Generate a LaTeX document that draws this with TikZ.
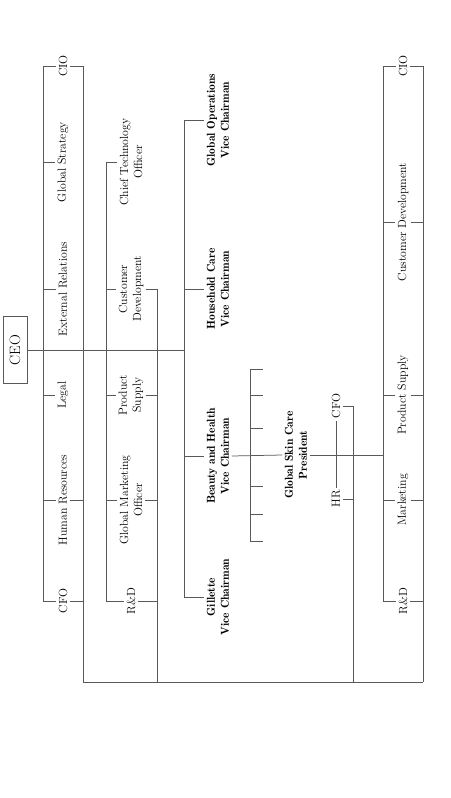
\documentclass[tikz,border=0pt]{standalone}
\usetikzlibrary{positioning}
\begin{document}
\begin{tikzpicture}[x=1pt,y=-1pt,
  line/.style={draw=black!65, line width=0.75pt},
  lbl/.style={rotate=90, align=center, inner sep=2.5pt, font=\fontsize{11.8}{14}\selectfont},
  vc/.style={lbl, font=\fontsize{11.5}{14}\selectfont\fontseries{b}\selectfont},
  ceobox/.style={draw=black!65, line width=0.75pt, rotate=90, minimum width=67pt,
                 minimum height=24pt, inner sep=0pt, font=\fontsize{15}{17}\selectfont}
]
\useasboundingbox (0,0) rectangle (450,798);

% rails of the matrix
\coordinate (c1L) at (43,0);
\coordinate (c1R) at (83,0);
\coordinate (c2L) at (106,0);
\coordinate (c2R) at (157,0);
\coordinate (vcL) at (184,0);
\coordinate (fnR) at (353,0);
\coordinate (c4L) at (383,0);
\coordinate (c4R) at (423,0);
\coordinate (base) at (0,682);

% CEO
\node[ceobox] (ceo) at (15,350) {CEO};

% corporate functions
\node[lbl] (cioA) at (63,66) {CIO};
\node[lbl] (gstrat) at (63,162) {Global Strategy};
\node[lbl] (extrel) at (63,289) {External Relations};
\node[lbl] (legal) at (63,395) {Legal};
\node[lbl] (hres) at (63,500) {Human Resources};
\node[lbl] (cfoA) at (63,601) {CFO};

% global functions
\node[lbl] (cto) at (131,162) {Chief Technology\\Officer};
\node[lbl] (cdevA) at (131,289) {Customer\\Development};
\node[lbl] (psupA) at (131,395) {Product\\Supply};
\node[lbl] (gmo) at (131,500) {Global Marketing\\Officer};
\node[lbl] (rndA) at (131,601) {R\&D};

% vice chairmen
\node[vc] (gops) at (218,120) {Global Operations\\Vice Chairman};
\node[vc] (hcare) at (218,289) {Household Care\\Vice Chairman};
\node[vc] (bhealth) at (218,456) {Beauty and Health\\Vice Chairman};
\node[vc] (gil) at (218,597) {Gillette\\Vice Chairman};

% business unit
\node[vc] (gsc) at (296,455) {Global Skin Care\\President};
\node[lbl] (cfoB) at (336,406) {CFO};
\node[lbl] (hrB) at (336,499) {HR};

% business unit functions
\node[lbl] (cioB) at (403,66) {CIO};
\node[lbl] (cdevB) at (403,222) {Customer Development};
\node[lbl] (psupB) at (403,395) {Product Supply};
\node[lbl] (mkt) at (403,500) {Marketing};
\node[lbl] (rndB) at (403,601) {R\&D};

% CEO line
\draw[line] (ceo.south) -- (vcL |- ceo);

% corporate functions
\draw[line] (c1L |- cioA) -- (c1L |- cfoA);
\draw[line] (c1R |- cioA) -- (c1R |- base);
\foreach \n in {cioA,gstrat,extrel,legal,hres,cfoA}
  \draw[line] (c1L |- \n) -- (\n.north);
\foreach \n in {cioA,hres,cfoA}
  \draw[line] (\n.south) -- (c1R |- \n);

% global functions
\draw[line] (c2L |- cto) -- (c2L |- rndA);
\draw[line] (c2R |- cdevA) -- (c2R |- base);
\foreach \n in {cto,cdevA,psupA,gmo,rndA}
  \draw[line] (c2L |- \n) -- (\n.north);
\foreach \n in {cdevA,psupA,gmo,rndA}
  \draw[line] (\n.south) -- (c2R |- \n);

% vice chairmen
\draw[line] (vcL |- gops) -- (vcL |- gil);
\foreach \n in {gops,hcare,bhealth,gil}
  \draw[line] (vcL |- \n) -- (\n.north);

% other units under beauty and health
\draw[line] (bhealth.south) -- (gsc.north);
\draw[line] (250,369) -- (250,541);
\foreach \y in {369,395,428,486,514,541}
  \draw[line] (250,\y) -- (263,\y);

% skin care unit
\draw[line] (gsc.south) -- (c4L |- gsc);
\draw[line] (hrB.east) -- (cfoB.west);
\draw[line] (hrB.south) -- (fnR |- hrB);
\draw[line] (cfoB.south) -- (fnR |- cfoB);
\draw[line] (fnR |- cfoB) -- (fnR |- base);

% business unit functions
\draw[line] (c4L |- cioB) -- (c4L |- rndB);
\draw[line] (c4R |- cioB) -- (c4R |- base);
\foreach \n in {cioB,cdevB,psupB,mkt,rndB} {
  \draw[line] (c4L |- \n) -- (\n.north);
  \draw[line] (\n.south) -- (c4R |- \n);
}

% bottom line
\draw[line] (c1R |- base) -- (c4R |- base);
\end{tikzpicture}
\end{document}
